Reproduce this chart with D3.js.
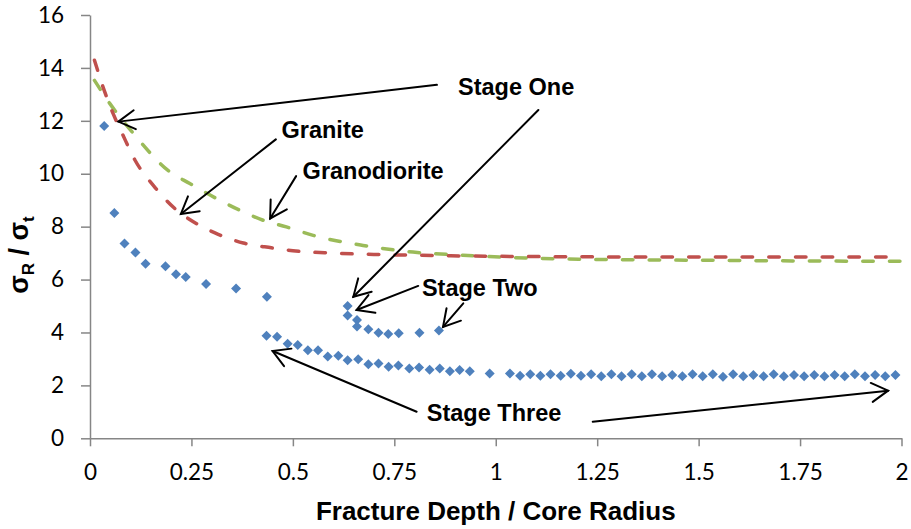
<!DOCTYPE html>
<html>
<head>
<meta charset="utf-8">
<script src="https://cdn.jsdelivr.net/npm/d3@7"></script>
<style>
  body { margin: 0; background: #fff; }
  svg { display: block; }
</style>
</head>
<body>
<svg id="chart" width="911" height="529"></svg>
<script>
// Measured points: fracture depth / core radius vs. normalised stress
const depthRatio = [
  0.035, 0.060, 0.085, 0.112, 0.137, 0.186, 0.212, 0.236, 0.286, 0.360, 0.436,
  0.635, 0.635, 0.658, 0.658, 0.686, 0.711, 0.735, 0.761, 0.812, 0.860,
  0.435, 0.461, 0.487, 0.512, 0.537, 0.562, 0.586, 0.612, 0.635, 0.661,
  0.686, 0.711, 0.736, 0.760, 0.787, 0.811, 0.837, 0.862, 0.887, 0.911,
  0.936, 0.985,
  1.035, 1.060, 1.085, 1.110, 1.135, 1.160, 1.185, 1.210, 1.235, 1.260,
  1.285, 1.310, 1.335, 1.360, 1.385, 1.410, 1.435, 1.460, 1.485, 1.510,
  1.535, 1.560, 1.585, 1.610, 1.635, 1.660, 1.685, 1.710, 1.735, 1.760,
  1.785, 1.810, 1.835, 1.860, 1.885, 1.910, 1.935, 1.960, 1.985
];
const stressRatio = [
  11.80, 8.52, 7.36, 7.02, 6.60, 6.50, 6.20, 6.10, 5.83, 5.66, 5.35,
  5.00, 4.64, 4.47, 4.23, 4.12, 3.99, 3.94, 3.97, 3.99, 4.07,
  3.88, 3.84, 3.57, 3.53, 3.33, 3.33, 3.09, 3.12, 2.95, 2.99,
  2.80, 2.83, 2.70, 2.75, 2.64, 2.68, 2.59, 2.64, 2.53, 2.58,
  2.53, 2.45,
  2.45, 2.36, 2.42, 2.36, 2.42, 2.36, 2.44, 2.36, 2.42, 2.35,
  2.42, 2.35, 2.42, 2.35, 2.42, 2.35, 2.39, 2.35, 2.42, 2.35,
  2.42, 2.33, 2.42, 2.35, 2.39, 2.35, 2.42, 2.35, 2.39, 2.35,
  2.39, 2.35, 2.39, 2.35, 2.42, 2.35, 2.39, 2.35, 2.39
];

// Granite model curve
const graniteX = [0.011, 0.035, 0.057, 0.080, 0.111, 0.156, 0.205, 0.263, 0.316, 0.378,
                  0.447, 0.500, 0.600, 0.700, 0.800, 1.000, 1.200, 1.500, 1.750, 1.985];
const graniteY = [14.29, 13.15, 12.27, 11.50, 10.51, 9.56, 8.74, 8.11, 7.71, 7.38,
                  7.20, 7.09, 7.00, 6.95, 6.92, 6.88, 6.86, 6.85, 6.85, 6.85];

// Granodiorite model curve
const granodioriteX = [0.011, 0.049, 0.107, 0.197, 0.246, 0.312, 0.369, 0.427, 0.484, 0.550,
                       0.673, 0.796, 0.919, 1.043, 1.207, 1.400, 1.600, 1.800, 2.000];
const granodioriteY = [13.53, 12.65, 11.52, 10.07, 9.63, 9.06, 8.62, 8.24, 7.99, 7.67,
                       7.29, 7.04, 6.92, 6.83, 6.77, 6.74, 6.72, 6.70, 6.69];

// Axis ticks
const xTicks = [0, 0.25, 0.5, 0.75, 1, 1.25, 1.5, 1.75, 2];
const xTickLabels = ["0", "0.25", "0.5", "0.75", "1", "1.25", "1.5", "1.75", "2"];
const yTicks = [0, 2, 4, 6, 8, 10, 12, 14, 16];

// Callout labels and their arrows (data units)
const calloutText = ["Stage One", "Granite", "Granodiorite", "Stage Two", "Stage Three"];
const calloutX = [0.907, 0.472, 0.524, 0.818, 0.830];
const calloutY = [12.97, 11.35, 9.80, 5.38, 0.67];
const arrowFromX = [0.855, 1.105, 0.458, 0.508, 0.809, 0.920, 0.805, 1.239];
const arrowFromY = [13.36, 12.41, 11.30, 9.91, 5.76, 5.10, 1.005, 0.627];
const arrowToX   = [0.070, 0.649, 0.224, 0.444, 0.657, 0.870, 0.450, 1.967];
const arrowToY   = [11.97, 5.35, 8.48, 8.31, 4.85, 4.21, 3.30, 1.80];

const svg = d3.select("#chart");
const x = d3.scaleLinear().domain([0, 2]).range([90, 901.5]);
const y = d3.scaleLinear().domain([0, 16]).range([438.3, 15]);

const axisColor = "#868686";
const tickFont = "Lato, 'Open Sans', sans-serif";

// X axis
const gx = svg.append("g").attr("transform", `translate(0,${y(0)})`)
  .call(d3.axisBottom(x).tickValues(xTicks).tickFormat((d, i) => xTickLabels[i])
        .tickSize(8).tickSizeOuter(0).tickPadding(18));
gx.select(".domain").attr("stroke", axisColor).attr("stroke-width", 1.5);
gx.selectAll(".tick line").attr("stroke", axisColor).attr("stroke-width", 1.5);
gx.selectAll(".tick text").attr("font-family", tickFont).attr("font-size", 22.5).attr("fill", "#000");

// Y axis
const gy = svg.append("g").attr("transform", `translate(${x(0)},0)`)
  .call(d3.axisLeft(y).tickValues(yTicks).tickSize(9).tickSizeOuter(0).tickPadding(17));
gy.select(".domain").attr("stroke", axisColor).attr("stroke-width", 1.5);
gy.selectAll(".tick line").attr("stroke", axisColor).attr("stroke-width", 1.5);
gy.selectAll(".tick text").attr("font-family", tickFont).attr("font-size", 22.5).attr("fill", "#000");

// Model curves
const line = d3.line().x(d => x(d[0])).y(d => y(d[1])).curve(d3.curveMonotoneX);
svg.append("path")
  .datum(granodioriteX.map((v, i) => [v, granodioriteY[i]]))
  .attr("d", line).attr("fill", "none")
  .attr("stroke", "#9BBB59").attr("stroke-width", 3.5)
  .attr("stroke-linecap", "round").attr("stroke-dasharray", "10.5,16.2");
svg.append("path")
  .datum(graniteX.map((v, i) => [v, graniteY[i]]))
  .attr("d", line).attr("fill", "none")
  .attr("stroke", "#C0504D").attr("stroke-width", 3.5)
  .attr("stroke-linecap", "round").attr("stroke-dasharray", "10.5,16.2");

// Measured points as diamonds
const diamond = d3.symbol().type(d3.symbolSquare).size(50);
svg.append("g").selectAll("path")
  .data(depthRatio.map((v, i) => [v, stressRatio[i]]))
  .join("path")
  .attr("d", diamond)
  .attr("transform", d => `translate(${x(d[0])},${y(d[1])}) rotate(45)`)
  .attr("fill", "#4F81BD");

// Arrows
const arrows = svg.append("g").attr("stroke", "#000").attr("stroke-width", 2)
  .attr("fill", "none").attr("stroke-linecap", "round");
const headLen = 19, headAng = 30 * Math.PI / 180;
arrowFromX.forEach((fx, i) => {
  const x1 = x(fx), y1 = y(arrowFromY[i]);
  const x2 = x(arrowToX[i]), y2 = y(arrowToY[i]);
  const a = Math.atan2(y2 - y1, x2 - x1);
  arrows.append("line").attr("x1", x1).attr("y1", y1).attr("x2", x2).attr("y2", y2);
  const w1 = [x2 - headLen * Math.cos(a - headAng), y2 - headLen * Math.sin(a - headAng)];
  const w2 = [x2 - headLen * Math.cos(a + headAng), y2 - headLen * Math.sin(a + headAng)];
  arrows.append("path")
    .attr("d", `M${w1[0]},${w1[1]}L${x2},${y2}L${w2[0]},${w2[1]}`)
    .attr("stroke-linejoin", "miter");
});

// Callout labels
svg.append("g").selectAll("text")
  .data(calloutText)
  .join("text")
  .attr("x", (d, i) => x(calloutX[i]))
  .attr("y", (d, i) => y(calloutY[i]))
  .attr("font-family", "'Liberation Sans', Arial, sans-serif")
  .attr("font-weight", "bold")
  .attr("font-size", 23.5)
  .attr("fill", "#000")
  .text(d => d);

// Axis titles
svg.append("text")
  .attr("x", (x(0) + x(2)) / 2).attr("y", 520)
  .attr("text-anchor", "middle")
  .attr("font-family", "'Liberation Sans', Arial, sans-serif")
  .attr("font-weight", "bold").attr("font-size", 26)
  .text("Fracture Depth / Core Radius");

const yTitle = svg.append("text")
  .attr("transform", "translate(28,255) rotate(-90)")
  .attr("text-anchor", "middle")
  .attr("font-family", "'Liberation Sans', Arial, sans-serif")
  .attr("font-weight", "bold").attr("font-size", 27);
yTitle.append("tspan").text("σ");
yTitle.append("tspan").attr("font-size", 17).attr("dy", 6).text("R");
yTitle.append("tspan").attr("dy", -6).text(" / σ");
yTitle.append("tspan").attr("font-size", 17).attr("dy", 6).text("t");
</script>
</body>
</html>
